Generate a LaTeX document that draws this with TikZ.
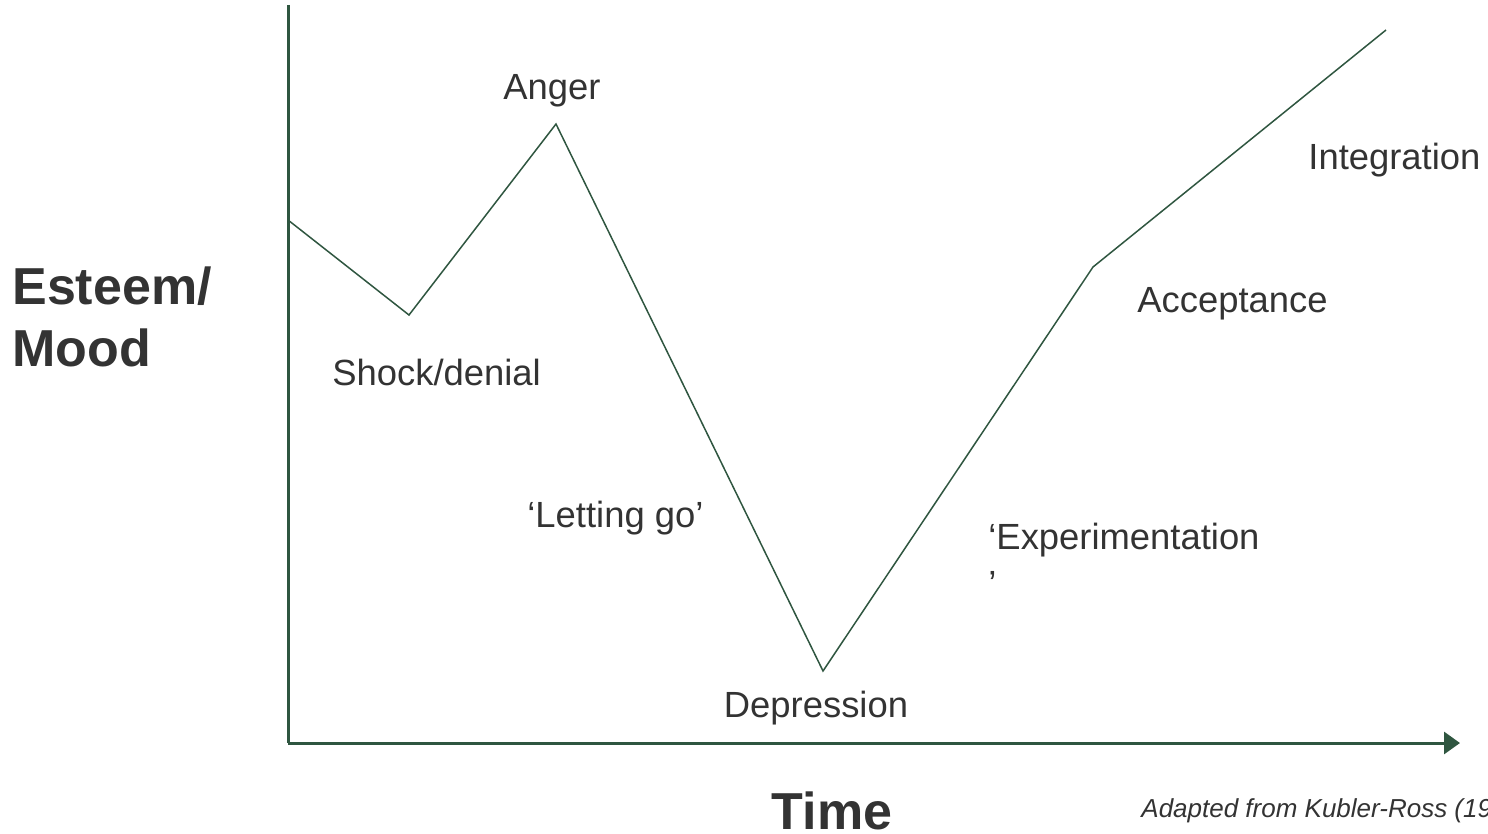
\documentclass[tikz,border=0pt]{standalone}
\usepackage{fontspec}
\setmainfont{Liberation Sans}
\usetikzlibrary{arrows.meta}
\definecolor{axisgreen}{RGB}{47,86,64}
\definecolor{labelgray}{RGB}{51,51,51}
\tikzset{
  stage/.style={font=\fontsize{18.2}{21}\selectfont, text=labelgray, inner sep=0pt},
  axislabel/.style={font=\fontsize{26}{31}\selectfont\bfseries, text=labelgray, inner sep=0pt},
}
\begin{document}
\begin{tikzpicture}[x=0.5pt,y=-0.5pt]
            \useasboundingbox (0,0) rectangle (1488,834);

            % Axes
            \coordinate (top) at (288,5);
            \coordinate (origin) at (288,743);
            \coordinate (right) at (1460,743);
            \draw[axisgreen, line width=1.5pt] (top) -- (origin);
            \draw[axisgreen, line width=1.5pt, -{Triangle[length=8pt,width=11pt]}] (origin) -- (right);

            % Points of the change curve
            \coordinate (start) at (288,220);
            \coordinate (shock) at (409,315);
            \coordinate (anger) at (556,124);
            \coordinate (depr) at (823,671);
            \coordinate (accept) at (1093,267);
            \coordinate (integ) at (1386,30);
            \draw[axisgreen, line width=0.75pt] (start) -- (shock) -- (anger) -- (depr) -- (accept) -- (integ);

            % Stage labels
            \node[stage] (lAnger) at (552,91) {Anger};
            \node[stage, anchor=west] (lShock) at (332,372) {Shock/denial};
            \node[stage, anchor=west] (lLetting) at (527,518) {`Letting go'};
            \node[stage] (lDepr) at (816,708) {Depression};
            \node[stage, anchor=west] (lExper) at (988,540) {`Experimentation};
            \node[stage, anchor=west] (lExperEnd) at (988,584) {'};
            \node[stage, anchor=west] (lAccept) at (1137,304) {Acceptance};
            \node[stage, anchor=west] (lInteg) at (1308,160) {Integration};

            % Axis titles
            \node[axislabel, anchor=west] (esteem) at (12,286) {Esteem/};
            \node[axislabel, anchor=west] (mood) at (12,348) {Mood};
            \node[axislabel] (time) at (832,811) {Time};

            % Source
            \node[font=\fontsize{13}{15}\selectfont\itshape, text=labelgray, inner sep=0pt, anchor=west] (source) at (1141,811) {Adapted from Kubler-Ross (1969)};
\end{tikzpicture}
\end{document}
